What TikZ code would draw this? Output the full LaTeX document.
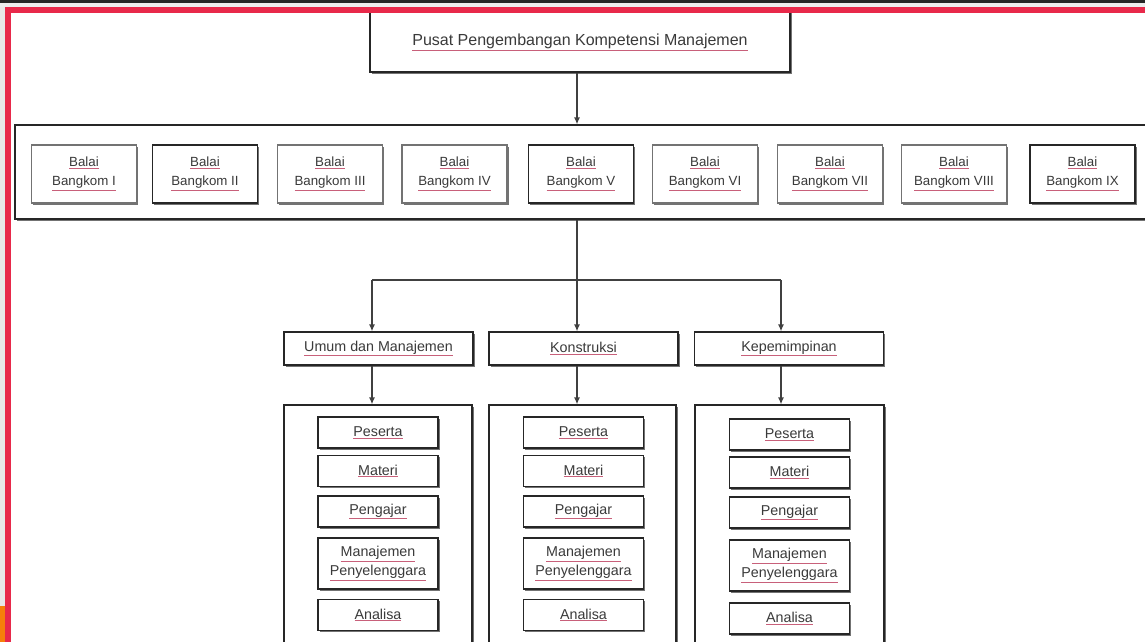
\documentclass[tikz,border=0pt]{standalone}
\usepackage{fontspec}
\setmainfont{Liberation Sans}
\usetikzlibrary{arrows.meta,shadows}
\definecolor{frame}{HTML}{E8294A}
\definecolor{ink}{HTML}{3A3A3A}
\definecolor{linkred}{HTML}{C8607A}
\newcommand{\lnk}[1]{\textcolor{linkred}{\underline{\textcolor{ink}{#1}}}}

\begin{document}
\begin{tikzpicture}[x=1pt,y=-1pt,
	box/.style={draw=black!85, line width=1.1pt, fill=white, align=center, inner sep=0pt,
		drop shadow={shadow xshift=1.5pt, shadow yshift=-1.5pt, fill=black!55, opacity=1}},
	greybox/.style={box, draw=black!55, line width=1.8pt},
	balai/.style={minimum width=105, minimum height=58, font=\fontsize{13.3}{19}\selectfont},
	unit/.style={box, minimum width=189, minimum height=33, font=\fontsize{14.3}{17}\selectfont},
	item/.style={box, minimum width=120, minimum height=31, font=\fontsize{14.3}{19}\selectfont},
	arr/.style={draw=black!75, line width=1.6pt, -{Latex[length=7pt,width=6pt]}}]
	\useasboundingbox (0,0) rectangle (1145,642);
	\clip (0,0) rectangle (1145,642);

	\node[box, minimum width=420, minimum height=92] (pusat) at (580,26) {};
	\node[font=\fontsize{16}{19}\selectfont] (pusatlbl) at (580,42) {\lnk{Pusat Pengembangan Kompetensi Manajemen}};

	\node[box, minimum width=1200, minimum height=94] (bangkom) at (615,172) {};
	\node[greybox, balai] (b1) at (84,174) {\lnk{Balai}\\\lnk{Bangkom I}};
	\node[box, balai] (b2) at (205,174) {\lnk{Balai}\\\lnk{Bangkom II}};
	\node[greybox, balai] (b3) at (330,174) {\lnk{Balai}\\\lnk{Bangkom III}};
	\node[greybox, balai] (b4) at (454.5,174) {\lnk{Balai}\\\lnk{Bangkom IV}};
	\node[box, balai] (b5) at (581,174) {\lnk{Balai}\\\lnk{Bangkom V}};
	\node[greybox, balai] (b6) at (705,174) {\lnk{Balai}\\\lnk{Bangkom VI}};
	\node[greybox, balai] (b7) at (830,174) {\lnk{Balai}\\\lnk{Bangkom VII}};
	\node[greybox, balai] (b8) at (954,174) {\lnk{Balai}\\\lnk{Bangkom VIII}};
	\node[box, balai] (b9) at (1082.5,174) {\lnk{Balai}\\\lnk{Bangkom IX}};

	\node[unit] (umum) at (378.5,348.5) {\lnk{Umum dan Manajemen}};
	\node[unit] (konstruksi) at (583.5,348.5) {\lnk{Konstruksi}};
	\node[unit] (kepemimpinan) at (789,348.5) {\lnk{Kepemimpinan}};

	\node[box, minimum width=188, minimum height=280] (umumbox) at (378,545) {};
	\node[box, minimum width=187, minimum height=280] (konstruksibox) at (582.5,545) {};
	\node[box, minimum width=189, minimum height=280] (kepemimpinanbox) at (789.5,545) {};

	\node[item] (p1) at (378,432.5) {\lnk{Peserta}};
	\node[item] (m1) at (378,471) {\lnk{Materi}};
	\node[item] (g1) at (378,511.5) {\lnk{Pengajar}};
	\node[item, minimum height=51] (s1) at (378,563.5) {\lnk{Manajemen}\\\lnk{Penyelenggara}};
	\node[item] (a1) at (378,615) {\lnk{Analisa}};

	\node[item] (p2) at (583.5,432.5) {\lnk{Peserta}};
	\node[item] (m2) at (583.5,471) {\lnk{Materi}};
	\node[item] (g2) at (583.5,511.5) {\lnk{Pengajar}};
	\node[item, minimum height=51] (s2) at (583.5,563.5) {\lnk{Manajemen}\\\lnk{Penyelenggara}};
	\node[item] (a2) at (583.5,615) {\lnk{Analisa}};

	\node[item] (p3) at (789.5,434.5) {\lnk{Peserta}};
	\node[item] (m3) at (789.5,472.5) {\lnk{Materi}};
	\node[item] (g3) at (789.5,512.5) {\lnk{Pengajar}};
	\node[item, minimum height=51] (s3) at (789.5,565.5) {\lnk{Manajemen}\\\lnk{Penyelenggara}};
	\node[item] (a3) at (789.5,618.5) {\lnk{Analisa}};

	\coordinate (spine) at (577,280);
	\coordinate (left) at (372,280);
	\coordinate (right) at (781,280);

	\draw[arr, line width=2.2pt] (spine |- pusat.south) -- (spine |- bangkom.north);
	\draw[arr, line width=2.2pt] (spine |- bangkom.south) -- (spine |- konstruksi.north);
	\draw[draw=black!75, line width=1.6pt] (left) -- (right);
	\draw[arr] (left) -- (left |- umum.north);
	\draw[arr] (right) -- (right |- kepemimpinan.north);
	\draw[arr] (left |- umum.south) -- (left |- umumbox.north);
	\draw[arr, line width=2.2pt] (spine |- konstruksi.south) -- (spine |- konstruksibox.north);
	\draw[arr, line width=2.2pt] (right |- kepemimpinan.south) -- (right |- kepemimpinanbox.north);

	\fill[black!85] (0,0) rectangle (1145,3.5);
	\fill[black!7] (0,3.5) rectangle (1145,7);
	\fill[black!9] (0,7) rectangle (5,642);
	\fill[orange!85!brown] (0,606) rectangle (5,642);
	\fill[frame] (5,7) rectangle (1145,13);
	\fill[frame] (5,7) rectangle (11,642);
\end{tikzpicture}
\end{document}
